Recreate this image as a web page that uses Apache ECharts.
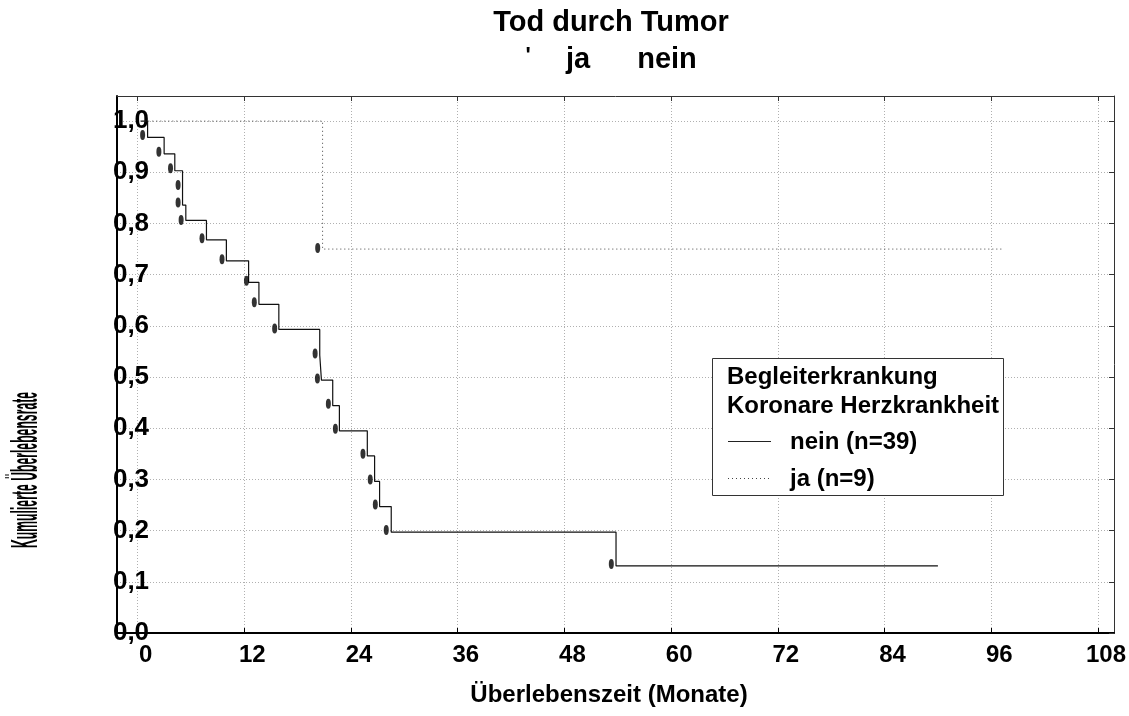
<!DOCTYPE html>
<html>
<head>
<meta charset="utf-8">
<script src="https://cdn.jsdelivr.net/npm/echarts@6/dist/echarts.min.js"></script>
<style>html,body{margin:0;padding:0;background:#fff}#c{width:1129px;height:716px}</style>
</head>
<body>
<div id="c"></div>
<script>
// ---- data ----
const xTicks = [0, 12, 24, 36, 48, 60, 72, 84, 96, 108];
const yTicks = [0, 0.1, 0.2, 0.3, 0.4, 0.5, 0.6, 0.7, 0.8, 0.9, 1.0];

// Kaplan-Meier step for "nein" (time of change, survival after change)
const neinTimes = [0.4, 1.12, 2.98, 4.18, 5.05, 5.42, 7.74, 9.98, 12.48, 13.64, 15.88, 20.48, 20.67, 21.94, 22.69, 25.83, 26.65, 27.21, 28.52, 53.8, 90];
const neinSurv  = [1.0, 0.968, 0.936, 0.903, 0.836, 0.806, 0.768, 0.727, 0.685, 0.642, 0.593, 0.543, 0.494, 0.444, 0.395, 0.346, 0.296, 0.247, 0.197, 0.131, 0.131];
const neinMarkT = [0.56, 2.39, 3.70, 4.55, 4.55, 4.89, 7.24, 9.49, 12.24, 13.12, 15.41, 19.96, 20.22, 21.45, 22.24, 25.34, 26.16, 26.73, 27.96, 53.27];
const neinMarkS = [0.973, 0.940, 0.908, 0.875, 0.841, 0.807, 0.771, 0.730, 0.688, 0.646, 0.595, 0.546, 0.497, 0.448, 0.399, 0.350, 0.300, 0.251, 0.201, 0.135];

// "ja"
const jaTimes = [0.3, 20.8, 97.3];
const jaSurv  = [1.0, 0.75, 0.75];
const jaMarkT = [20.25];
const jaMarkS = [0.752];

// texts
const titleText = 'Tod durch Tumor';
const subLabels = ["'", 'ja', 'nein'];
const xName = 'Überlebenszeit (Monate)';
const yName = 'Kumulierte Überlebensrate';
const legendTitle = ['Begleiterkrankung', 'Koronare Herzkrankheit'];
const legendLabels = ['nein (n=39)', 'ja (n=9)'];

const zip = (a, b) => a.map((v, i) => [v, b[i]]);
const FONT = 'Liberation Sans, Arial, sans-serif';

const chart = echarts.init(document.getElementById('c'), null, {renderer: 'canvas'});

const xMin = -2.32, xMax = 109.8, yMin = 0, yMax = 1.049;

const option = {
  animation: false,
  backgroundColor: '#fff',
  grid: {left: 117, right: 12, top: 96, bottom: 83, containLabel: false},
  xAxis: [{
    type: 'value', min: xMin, max: xMax, position: 'bottom',
    axisLine: {show: true, onZero: false, lineStyle: {color: '#000', width: 2}},
    axisTick: {show: true, inside: true, length: 5, customValues: xTicks, lineStyle: {color: '#000', width: 1}},
    axisLabel: {customValues: xTicks, fontSize: 24, fontWeight: 'bold', color: '#000', fontFamily: FONT, margin: 10, padding: [0, 0, 0, 16]},
    splitLine: {show: true, lineStyle: {type: [1, 2], color: '#b0b0b0', width: 1}}
  }, {
    type: 'value', min: xMin, max: xMax, position: 'top',
    axisLine: {show: true, onZero: false, lineStyle: {color: '#333', width: 1}},
    axisTick: {show: true, inside: true, length: 5, customValues: xTicks, lineStyle: {color: '#333'}},
    axisLabel: {show: false},
    splitLine: {show: false}
  }],
  yAxis: [{
    type: 'value', min: yMin, max: yMax, position: 'left',
    axisLine: {show: true, onZero: false, lineStyle: {color: '#000', width: 2}},
    axisTick: {show: false, customValues: yTicks},
    axisLabel: {customValues: yTicks, fontSize: 26, fontWeight: 'bold', color: '#000', fontFamily: FONT,
      align: 'center', margin: -14,
      formatter: v => v.toFixed(1).replace('.', ',')},
    splitLine: {show: true, lineStyle: {type: [1, 2], color: '#b0b0b0', width: 1}}
  }, {
    type: 'value', min: yMin, max: yMax, position: 'right',
    axisLine: {show: true, onZero: false, lineStyle: {color: '#333', width: 1}},
    axisTick: {show: true, inside: true, length: 5, customValues: yTicks, lineStyle: {color: '#333'}},
    axisLabel: {show: false},
    splitLine: {show: false}
  }],
  series: [{
    name: legendLabels[0], type: 'line', step: 'end', symbol: 'none',
    data: zip(neinTimes, neinSurv),
    lineStyle: {color: '#111', width: 1.2}, z: 3
  }, {
    name: legendLabels[1], type: 'line', step: 'end', symbol: 'none',
    data: zip(jaTimes, jaSurv),
    lineStyle: {color: '#444', width: 1, type: [1, 3]}, z: 3
  }, {
    type: 'scatter', symbol: 'circle', symbolSize: [5, 10],
    data: zip(neinMarkT, neinMarkS), itemStyle: {color: '#000'}, z: 4
  }, {
    type: 'scatter', symbol: 'circle', symbolSize: [5, 10],
    data: zip(jaMarkT, jaMarkS), itemStyle: {color: '#000'}, z: 4
  }],
  graphic: [
    {type: 'text', x: 611, y: 23, z: 100, style: {text: titleText, font: 'bold 29px ' + FONT, fill: '#000', textAlign: 'center', textVerticalAlign: 'middle'}},
    {type: 'text', x: 528, y: 56, z: 100, style: {text: subLabels[0], font: 'bold 22px ' + FONT, fill: '#000', textAlign: 'center', textVerticalAlign: 'middle'}},
    {type: 'text', x: 578, y: 60, z: 100, style: {text: subLabels[1], font: 'bold 29px ' + FONT, fill: '#000', textAlign: 'center', textVerticalAlign: 'middle'}},
    {type: 'text', x: 667, y: 60, z: 100, style: {text: subLabels[2], font: 'bold 29px ' + FONT, fill: '#000', textAlign: 'center', textVerticalAlign: 'middle'}},
    {type: 'text', x: 609, y: 695, z: 100, style: {text: xName, font: 'bold 24px ' + FONT, fill: '#000', textAlign: 'center', textVerticalAlign: 'middle'}},
    {type: 'text', x: 27, y: 470, rotation: Math.PI / 2, scaleX: 0.33, z: 100, style: {text: yName, font: 'bold 37px ' + FONT, fill: '#000', textAlign: 'center', textVerticalAlign: 'middle'}},
    {type: 'rect', z: 100, shape: {x: 712.5, y: 358.5, width: 291, height: 137}, style: {fill: '#fff', stroke: '#333', lineWidth: 1}},
    {type: 'text', x: 727, y: 377, z: 101, style: {text: legendTitle[0], font: 'bold 24px ' + FONT, fill: '#000', textAlign: 'left', textVerticalAlign: 'middle'}},
    {type: 'text', x: 727, y: 406, z: 101, style: {text: legendTitle[1], font: 'bold 24px ' + FONT, fill: '#000', textAlign: 'left', textVerticalAlign: 'middle'}},
    {type: 'line', z: 101, shape: {x1: 728, y1: 441.5, x2: 771, y2: 441.5}, style: {stroke: '#222', lineWidth: 1}},
    {type: 'text', x: 790, y: 442, z: 101, style: {text: legendLabels[0], font: 'bold 24px ' + FONT, fill: '#000', textAlign: 'left', textVerticalAlign: 'middle'}},
    {type: 'line', z: 101, shape: {x1: 728, y1: 478.5, x2: 771, y2: 478.5}, style: {stroke: '#444', lineWidth: 1, lineDash: [1, 3]}},
    {type: 'text', x: 790, y: 479, z: 101, style: {text: legendLabels[1], font: 'bold 24px ' + FONT, fill: '#000', textAlign: 'left', textVerticalAlign: 'middle'}}
  ]
};
chart.setOption(option);
</script>
</body>
</html>
